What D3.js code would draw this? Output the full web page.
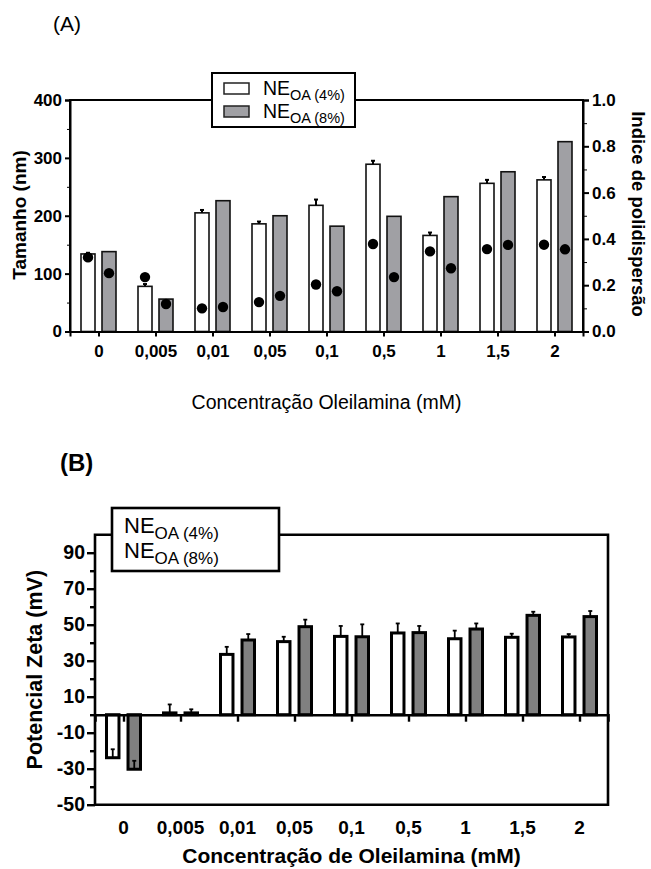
<!DOCTYPE html>
<html>
<head>
<meta charset="utf-8">
<script src="https://cdn.jsdelivr.net/npm/d3@7"></script>
<style>
  body { margin: 0; background: #fff; }
  svg { display: block; font-family: "Liberation Sans", Arial, sans-serif; }
</style>
</head>
<body>
<script>
const categories = ["0", "0,005", "0,01", "0,05", "0,1", "0,5", "1", "1,5", "2"];

// (A) size (nm) and polydispersity
const size4 = [134, 78, 205, 186, 218, 289, 166, 256, 262];
const size4Err = [2, 4, 5, 4, 10, 6, 5, 6, 5];
const size8 = [138, 56, 226, 200, 182, 199, 233, 276, 328];
const pdi4 = [0.32, 0.235, 0.10, 0.127, 0.203, 0.378, 0.346, 0.356, 0.375];
const pdi8 = [0.252, 0.119, 0.106, 0.154, 0.174, 0.235, 0.273, 0.374, 0.355];

// (B) zeta potential (mV)
const zeta4 = [-23.9, 1.0, 33.5, 40.6, 43.5, 45.4, 42.2, 43.0, 43.2];
const zeta4Err = [4.7, 4.7, 4.2, 2.7, 5.8, 5.3, 4.5, 2.0, 1.6];
const zeta8 = [-30.3, 1.0, 41.5, 48.9, 43.3, 45.6, 47.6, 55.2, 54.5];
const zeta8Err = [4.7, 2.0, 3.3, 3.9, 6.9, 3.7, 3.1, 2.0, 3.1];

const sizeTicks = [0, 100, 200, 300, 400];
const pdiTicks = [0, 0.2, 0.4, 0.6, 0.8, 1.0];
const zetaTicks = [-50, -30, -10, 10, 30, 50, 70, 90];

const grayA = "#a0a0a4";
const grayB = "#808080";

const svg = d3.select("body").append("svg")
    .attr("width", 651)
    .attr("height", 869);

// ---------------- (A) ----------------
const A = {left: 70, right: 583, top: 100, bottom: 331.5};

const xA = d3.scalePoint().domain(categories).range([A.left, A.right]).padding(0.5);
const subA = d3.scaleBand().domain(["4", "8"]).range([-17.5, 17.5]).paddingInner(1 / 3);
const yA = d3.scaleLinear().domain([0, 400]).range([A.bottom, A.top]);
const yPdi = d3.scaleLinear().domain([0, 1]).range([A.bottom, A.top]);

svg.append("text")
    .attr("x", 53).attr("y", 31)
    .attr("font-size", 21)
    .text("(A)");

const rowsA = categories.map((c, i) => ({c, s4: size4[i], e4: size4Err[i], s8: size8[i], p4: pdi4[i], p8: pdi8[i]}));

const gA = svg.append("g");

gA.selectAll("rect.w")
  .data(rowsA)
  .join("rect")
    .attr("x", d => xA(d.c) + subA("4"))
    .attr("width", subA.bandwidth())
    .attr("y", d => yA(d.s4))
    .attr("height", d => yA(0) - yA(d.s4))
    .attr("fill", "#fff")
    .attr("stroke", "#111")
    .attr("stroke-width", 1.6);

gA.selectAll("rect.g")
  .data(rowsA)
  .join("rect")
    .attr("x", d => xA(d.c) + subA("8"))
    .attr("width", subA.bandwidth())
    .attr("y", d => yA(d.s8))
    .attr("height", d => yA(0) - yA(d.s8))
    .attr("fill", grayA)
    .attr("stroke", "#111")
    .attr("stroke-width", 1.6);

// error bars on the 4% series
const errA = gA.append("g").attr("stroke", "#000").attr("stroke-width", 2);
rowsA.forEach(d => {
  const cx = xA(d.c) + subA("4") + subA.bandwidth() / 2;
  errA.append("line").attr("x1", cx).attr("x2", cx).attr("y1", yA(d.s4)).attr("y2", yA(d.s4 + d.e4));
  errA.append("line").attr("x1", cx - 2).attr("x2", cx + 2).attr("y1", yA(d.s4 + d.e4)).attr("y2", yA(d.s4 + d.e4));
});

// polydispersity dots
gA.selectAll("circle.p4")
  .data(rowsA)
  .join("circle")
    .attr("cx", d => xA(d.c) + subA("4") + subA.bandwidth() / 2)
    .attr("cy", d => yPdi(d.p4))
    .attr("r", 5.2)
    .attr("fill", "#000");
gA.selectAll("circle.p8")
  .data(rowsA)
  .join("circle")
    .attr("cx", d => xA(d.c) + subA("8") + subA.bandwidth() / 2)
    .attr("cy", d => yPdi(d.p8))
    .attr("r", 5.2)
    .attr("fill", "#000");

// frame
svg.append("path")
    .attr("d", `M${A.left},${A.bottom}V${A.top}H${A.right}V${A.bottom}`)
    .attr("fill", "none").attr("stroke", "#000").attr("stroke-width", 2);

// axes
const leftA = svg.append("g")
    .attr("transform", `translate(${A.left},0)`)
    .call(d3.axisLeft(yA).tickValues(sizeTicks).tickSize(5).tickPadding(3))
    .call(g => g.select(".domain").attr("stroke-width", 2));
svg.append("g")
    .attr("transform", `translate(${A.left},0)`)
    .call(d3.axisLeft(yA).tickValues([50, 150, 250, 350]).tickSize(3).tickFormat(""))
    .call(g => g.select(".domain").remove());

const rightA = svg.append("g")
    .attr("transform", `translate(${A.right},0)`)
    .call(d3.axisRight(yPdi).tickValues(pdiTicks).tickSize(6).tickPadding(3).tickFormat(d => d.toFixed(1)))
    .call(g => g.select(".domain").attr("stroke-width", 2));
svg.append("g")
    .attr("transform", `translate(${A.right},0)`)
    .call(d3.axisRight(yPdi).tickValues([0.1, 0.3, 0.5, 0.7, 0.9]).tickSize(4).tickFormat(""))
    .call(g => g.select(".domain").remove());

const bottomA = svg.append("g")
    .attr("transform", `translate(0,${A.bottom})`)
    .call(d3.axisBottom(xA).tickSize(5).tickPadding(8))
    .call(g => g.select(".domain").attr("stroke-width", 2));

[leftA, rightA, bottomA].forEach(g => {
  g.selectAll(".tick line").attr("stroke-width", 2);
  g.selectAll(".tick text")
    .attr("font-family", "Liberation Sans, Arial, sans-serif")
    .attr("font-size", 17).attr("font-weight", "bold").attr("fill", "#000");
});

svg.append("text")
    .attr("transform", `translate(26,215) rotate(-90)`)
    .attr("text-anchor", "middle")
    .attr("font-size", 19).attr("font-weight", "bold")
    .text("Tamanho (nm)");

svg.append("text")
    .attr("transform", `translate(632,214) rotate(90)`)
    .attr("text-anchor", "middle")
    .attr("font-size", 18.5).attr("font-weight", "bold")
    .text("Indice de polidispersão");

svg.append("text")
    .attr("x", (A.left + A.right) / 2).attr("y", 409)
    .attr("text-anchor", "middle")
    .attr("font-size", 19.5)
    .text("Concentração Oleilamina (mM)");

// legend (A)
const legA = svg.append("g");
legA.append("rect")
    .attr("x", 212).attr("y", 73).attr("width", 143).attr("height", 54)
    .attr("fill", "#fff").attr("stroke", "#000").attr("stroke-width", 2);
[["(4%)", "#fff", 0], ["(8%)", grayA, 1]].forEach(([lab, fill, i]) => {
  legA.append("rect")
      .attr("x", 224).attr("y", 83 + i * 23).attr("width", 25).attr("height", 11)
      .attr("fill", fill).attr("stroke", "#222").attr("stroke-width", 1.5);
  const t = legA.append("text").attr("x", 263).attr("y", 95 + i * 23).attr("font-size", 19.5);
  t.append("tspan").text("NE");
  t.append("tspan").attr("dy", 5).attr("font-size", 14.5).text("OA " + lab);
});

// ---------------- (B) ----------------
const B = {left: 95, right: 608, top: 534.7, bottom: 804.7};

const xB = d3.scalePoint().domain(categories).range([B.left, B.right]).padding(0.5);
const subB = d3.scaleBand().domain(["4", "8"]).range([-17, 17]).paddingInner(0.42);
const yB = d3.scaleLinear().domain([-50, 100]).range([B.bottom, B.top]);

svg.append("text")
    .attr("x", 60).attr("y", 471)
    .attr("font-size", 24).attr("font-weight", "bold")
    .text("(B)");

const rowsB = categories.map((c, i) => ({c, z4: zeta4[i], e4: zeta4Err[i], z8: zeta8[i], e8: zeta8Err[i]}));

const gB = svg.append("g");
[["4", "z4", "e4", "#fff"], ["8", "z8", "e8", grayB]].forEach(([k, vk, ek, fill]) => {
  gB.selectAll(null)
    .data(rowsB)
    .join("rect")
      .attr("x", d => xB(d.c) + subB(k))
      .attr("width", subB.bandwidth())
      .attr("y", d => yB(Math.max(0, d[vk])))
      .attr("height", d => Math.abs(yB(d[vk]) - yB(0)))
      .attr("fill", fill)
      .attr("stroke", "#000")
      .attr("stroke-width", 3);
  const eg = gB.append("g").attr("stroke", "#000").attr("stroke-width", 1.8);
  rowsB.forEach(d => {
    const cx = xB(d.c) + subB(k) + subB.bandwidth() / 2;
    const top = d[vk] + d[ek];
    eg.append("line").attr("x1", cx).attr("x2", cx).attr("y1", yB(d[vk])).attr("y2", yB(top));
    eg.append("line").attr("x1", cx - 2).attr("x2", cx + 2).attr("y1", yB(top)).attr("y2", yB(top));
  });
});

// frame + zero line
svg.append("path")
    .attr("d", `M${B.left},${B.top}V${B.bottom}H${B.right}V${B.top}Z`)
    .attr("fill", "none").attr("stroke", "#000").attr("stroke-width", 2.6);

svg.append("g")
    .attr("transform", `translate(0,${yB(0)})`)
    .call(d3.axisBottom(xB).tickSize(7).tickFormat(""))
    .call(g => g.select(".domain").attr("stroke-width", 2.6))
    .call(g => g.selectAll(".tick line").attr("stroke-width", 2.4));

const leftB = svg.append("g")
    .attr("transform", `translate(${B.left},0)`)
    .call(d3.axisLeft(yB).tickValues(zetaTicks).tickSize(8).tickPadding(2).tickFormat(d => String(d)))
    .call(g => g.select(".domain").remove());
svg.append("g")
    .attr("transform", `translate(${B.left},0)`)
    .call(d3.axisLeft(yB).tickValues([-40, -20, 0, 20, 40, 60, 80]).tickSize(5).tickFormat(""))
    .call(g => g.select(".domain").remove())
    .call(g => g.selectAll(".tick line").attr("stroke-width", 2.4));
leftB.selectAll(".tick line").attr("stroke-width", 2.4);
leftB.selectAll(".tick text")
    .attr("font-family", "Liberation Sans, Arial, sans-serif")
    .attr("font-size", 19.5).attr("font-weight", "bold").attr("fill", "#000");

svg.append("g")
  .selectAll("text")
  .data(categories)
  .join("text")
    .attr("x", d => xB(d))
    .attr("y", 834)
    .attr("text-anchor", "middle")
    .attr("font-size", 19).attr("font-weight", "bold")
    .text(d => d);

svg.append("text")
    .attr("x", (B.left + B.right) / 2).attr("y", 863)
    .attr("text-anchor", "middle")
    .attr("font-size", 21).attr("font-weight", "bold")
    .text("Concentração de Oleilamina (mM)");

svg.append("text")
    .attr("transform", `translate(42,${(B.top + B.bottom) / 2}) rotate(-90)`)
    .attr("text-anchor", "middle")
    .attr("font-size", 21.5).attr("font-weight", "bold")
    .text("Potencial Zeta (mV)");

// legend (B)
const legB = svg.append("g");
legB.append("rect")
    .attr("x", 112).attr("y", 508).attr("width", 167).attr("height", 63)
    .attr("fill", "#fff").attr("stroke", "#000").attr("stroke-width", 2.6);
["(4%)", "(8%)"].forEach((lab, i) => {
  const t = legB.append("text").attr("x", 124).attr("y", 533 + i * 24.5).attr("font-size", 22);
  t.append("tspan").text("NE");
  t.append("tspan").attr("dy", 6).attr("font-size", 17).text("OA " + lab);
});
</script>
</body>
</html>
